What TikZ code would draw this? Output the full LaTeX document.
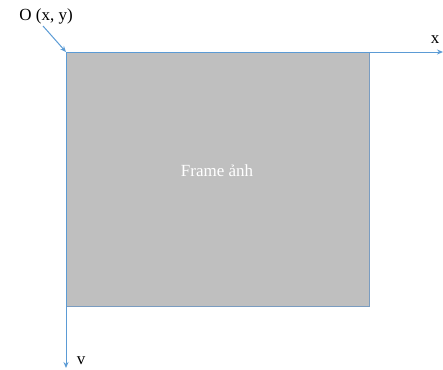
\documentclass[tikz,border=0pt]{standalone}
\usepackage{fontspec}
\setmainfont{Liberation Serif}
\usetikzlibrary{arrows.meta}
\definecolor{axisblue}{HTML}{5B9BD5}
\definecolor{framegrey}{HTML}{BFBFBF}
\definecolor{frameedge}{HTML}{7A9CC0}

\begin{document}
\begin{tikzpicture}[x=1pt, y=-1pt,
    axis/.style={draw=axisblue, line width=1pt, -{Stealth[length=6pt,width=5pt]}},
    lbl/.style={font=\fontsize{17}{20}\selectfont}]
        \useasboundingbox (0,0) rectangle (443,369);

        % Frame
        \draw[fill=framegrey, draw=frameedge, line width=1pt] (66,52) rectangle (369,306);
        \node[lbl, text=white] (frame) at (217,171) {Frame ảnh};

        % Axes
        \coordinate (origin) at (66,52);
        \coordinate (xend) at (443,52);
        \coordinate (yend) at (66,368);
        \draw[axis] (origin) -- (xend);
        \draw[axis] (origin) -- (yend);
        \node[lbl] (xlabel) at (435,40) {x};
        \node[lbl] (ylabel) at (81,361) {v};

        % Origin label
        \node[lbl] (olabel) at (46,16) {O (x, y)};
        \coordinate (ostart) at (43,26);
        \draw[axis] (ostart) -- (origin);
      \end{tikzpicture}
\end{document}
